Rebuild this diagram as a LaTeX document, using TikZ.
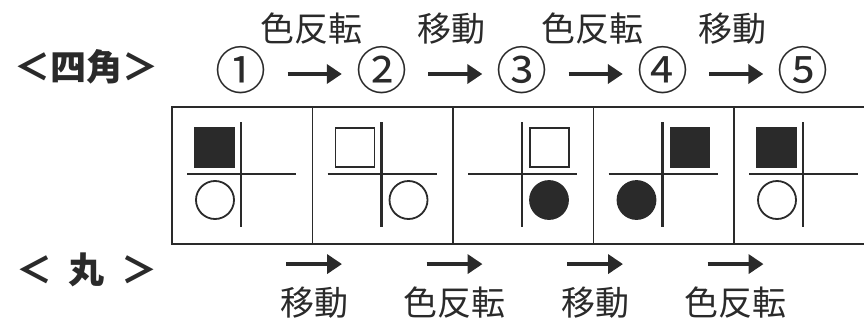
\documentclass[tikz,border=0pt]{standalone}
\usepackage{fontspec}
\newfontfamily\jp{Noto Sans CJK JP}
\usetikzlibrary{arrows.meta}
\definecolor{ink}{HTML}{2A2A2A}

\begin{document}
\begin{tikzpicture}[x=1pt,y=-1pt,
  cell/.style={draw=ink, line width=1.6pt, minimum width=140.5pt, minimum height=137pt, inner sep=0pt, anchor=north west},
  bar/.style={draw=ink, line width=2.2pt},
  sq/.style={draw=ink, line width=1.8pt, minimum size=39pt, inner sep=0pt},
  rnd/.style={circle, draw=ink, line width=1.8pt, minimum size=38pt, inner sep=0pt},
  arr/.style={draw=ink, line width=4.5pt, -{Triangle[length=15pt,width=19pt]}},
  hd/.style={text=ink, inner sep=0pt, font=\jp\bfseries\fontsize{36}{38}\selectfont},
  num/.style={text=ink, inner sep=0pt, font=\jp\fontsize{51}{53}\selectfont},
  lbl/.style={text=ink, inner sep=0pt, font=\jp\fontsize{34}{36}\selectfont}]
  \useasboundingbox (0,0) rectangle (864,324);
  \clip (0,0) rectangle (864,324);

  % headings
  \node[hd] (sqhd) at (86,67) {＜四角＞};
  \node[hd] (cihd) at (87,270) {＜\hspace{.45em}丸\hspace{.45em}＞};

  % step numbers and top arrows
  \foreach \i/\c in {1/①,2/②,3/③,4/④,5/⑤}
    \node[num] (n\i) at (100.5+140.5*\i,70) {\c};
  \foreach \i/\j/\t in {1/2/色反転,2/3/移動,3/4/色反転,4/5/移動}
    \draw[arr, shorten <=21pt, shorten >=14pt] ([yshift=-4pt]n\i.east) -- node[lbl, midway, above=27pt] {\t} ([yshift=-4pt]n\j.west);

  % cells
  \foreach \i/\s/\sf/\c/\cf in {1/0/ink/0/white, 2/0/white/1/white, 3/1/white/1/ink, 4/1/ink/0/ink, 5/0/ink/0/white}{
    \pgfmathsetmacro\L{171+140.5*(\i-1)}
    \node[cell] (c\i) at (\L,106) {};
    \draw[bar] (\L+16,174) -- (\L+125,174);
    \draw[bar] (\L+70,122) -- (\L+70,227);
    \node[sq, fill=\sf] (s\i) at (\L+43.5+54*\s,147.5) {};
    \node[rnd, fill=\cf] (r\i) at (\L+44+53*\c,200) {};
  }

  % bottom arrows and labels
  \foreach \i/\t in {1/移動,2/色反転,3/移動,4/色反転}{
    \node[lbl] (m\i) at (173.5+140.5*\i,303) {\t};
    \draw[arr] ([xshift=-28pt,yshift=23pt]m\i.north) -- ([xshift=28pt,yshift=23pt]m\i.north);
  }
\end{tikzpicture}
\end{document}
